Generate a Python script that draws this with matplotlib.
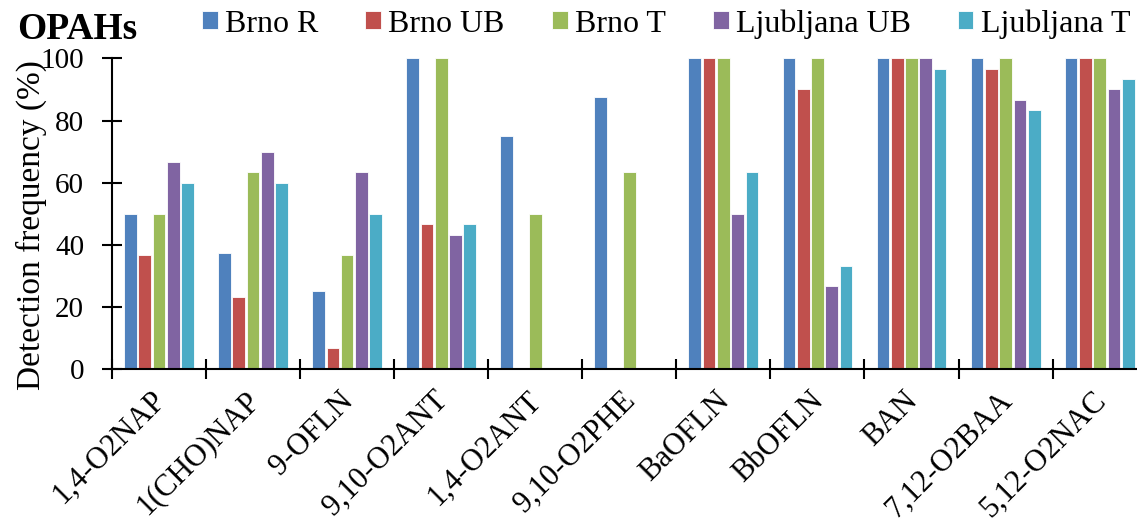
import numpy as np
import matplotlib.pyplot as plt
from matplotlib.transforms import ScaledTranslation

plt.rcParams['font.family'] = ['Liberation Serif', 'DejaVu Serif']

# compounds and detection frequencies (%) per site
compounds = ["1,4-O2NAP", "1(CHO)NAP", "9-OFLN", "9,10-O2ANT", "1,4-O2ANT",
             "9,10-O2PHE", "BaOFLN", "BbOFLN", "BAN", "7,12-O2BAA", "5,12-O2NAC"]
brno_r = [50, 37.5, 25, 100, 75, 87.5, 100, 100, 100, 100, 100]
brno_ub = [36.7, 23.3, 6.7, 46.7, 0, 0, 100, 90, 100, 96.7, 100]
brno_t = [50, 63.3, 36.7, 100, 50, 63.3, 100, 100, 100, 100, 100]
ljubljana_ub = [66.7, 70, 63.3, 43.3, 0, 0, 50, 26.7, 100, 86.7, 90]
ljubljana_t = [60, 60, 50, 46.7, 0, 0, 63.3, 33.3, 96.7, 83.3, 93.3]

series = [("Brno R", brno_r, "#4F81BD"),
          ("Brno UB", brno_ub, "#C0504D"),
          ("Brno T", brno_t, "#9BBB59"),
          ("Ljubljana UB", ljubljana_ub, "#8064A2"),
          ("Ljubljana T", ljubljana_t, "#4BACC6")]

fig = plt.figure(figsize=(11.37, 5.31), dpi=100)
ax = fig.add_axes([0.0985, 0.305, 0.91, 0.585])

x = np.arange(len(compounds))
step = 0.152
width = 0.135
for i, (name, vals, col) in enumerate(series):
    ax.bar(x + (i - 2) * step, vals, width, color=col, label=name,
           edgecolor="white", linewidth=0.6)

ax.set_xlim(-0.5, len(compounds) - 0.5)
ax.set_ylim(0, 100)
ax.set_yticks(range(0, 101, 20))
ax.tick_params(axis="y", labelsize=21, direction="inout", length=14, width=1.5, pad=13)

# category boundaries carry the ticks, names sit in between
ax.set_xticks(np.arange(len(compounds) + 1) - 0.5)
ax.set_xticklabels([])
ax.set_xticks(x, minor=True)
ax.set_xticklabels(compounds, minor=True, rotation=45, ha="right", va="top",
                   rotation_mode="anchor", fontsize=22)
ax.tick_params(axis="x", which="major", direction="inout", length=14, width=1.5)
ax.tick_params(axis="x", which="minor", length=0, pad=12)
shift = ScaledTranslation(-6 / 72, 0, fig.dpi_scale_trans)
for lbl in ax.get_xticklabels(minor=True):
    lbl.set_transform(lbl.get_transform() + shift)

for s in ["top", "right"]:
    ax.spines[s].set_visible(False)
for s in ["left", "bottom"]:
    ax.spines[s].set_linewidth(1.5)

ax.set_ylabel("Detection frequency (%)", fontsize=24)
ax.yaxis.set_label_coords(-0.063, 0.463)

fig.text(0.015, 0.9266, "OPAHs", fontsize=27, fontweight="bold", va="baseline")
fig.legend(loc="center left", bbox_to_anchor=(0.1777, 0.955), ncol=5, frameon=False,
           fontsize=23, handlelength=0.5, handleheight=0.5, handletextpad=0.22,
           columnspacing=1.47, borderaxespad=0, borderpad=0)

fig.savefig("out.png", dpi=100)
